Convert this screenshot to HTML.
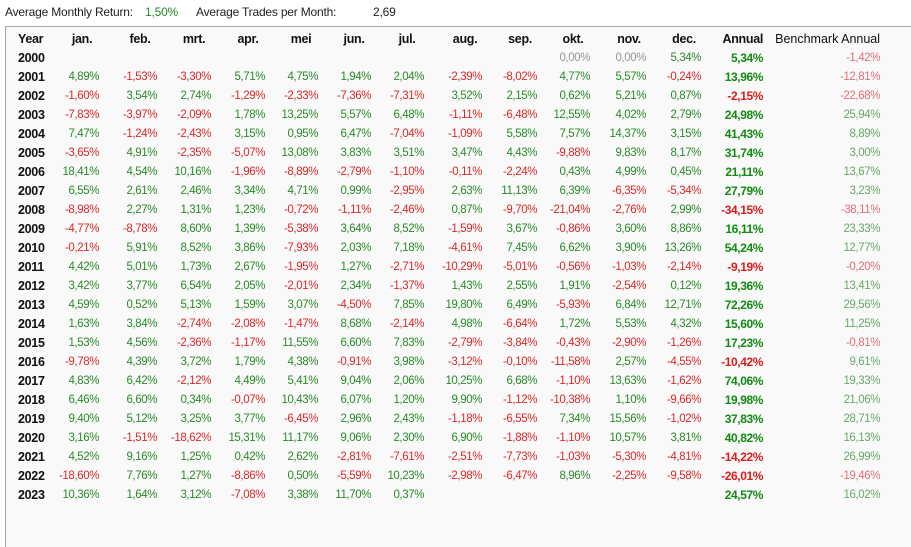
<!DOCTYPE html>
<html><head><meta charset="utf-8"><style>
body{margin:0;width:911px;height:530px;background:#fff;font-family:"Liberation Sans",sans-serif;overflow:hidden;position:relative}
#top{position:absolute;left:5px;top:5px;font-size:12px;color:#222;letter-spacing:-0.2px;white-space:nowrap}
#top span{position:absolute;top:0}
#box{position:absolute;left:5px;top:26px;width:920px;height:520px;border-left:1px solid #a8a8a8;border-top:1px solid #a8a8a8;background:#f9f9f9}
table{position:absolute;left:12px;top:3px;border-collapse:collapse;table-layout:fixed;font-size:11.5px;letter-spacing:-0.4px}
td,th{padding:0;height:19px;text-align:right;white-space:nowrap;color:#2a8a2a;font-weight:normal}
th{height:18px;font-weight:bold;color:#111;text-align:center;font-size:12.5px;letter-spacing:-0.3px}
td:first-child,th:first-child{text-align:left;font-weight:bold;color:#111;font-size:12.5px;letter-spacing:-0.3px}
td.r{color:#d82a2a}td.z{color:#999}
td:nth-child(14){font-weight:bold;color:#138a13;font-size:12px}td:nth-child(14).r{color:#d81e1e}
td:nth-child(15){color:#6aa86a}td:nth-child(15).r{color:#e07078}
</style></head><body>
<div id="top"><span style="left:0">Average Monthly Return:</span><span style="left:140px;color:#2a8a2a">1,50%</span><span style="left:191px">Average Trades per Month:</span><span style="left:368px">2,69</span></div>
<div id="box"><table>
<colgroup><col style="width:41px"><col style="width:40px"><col style="width:58px"><col style="width:54px"><col style="width:54px"><col style="width:53px"><col style="width:53px"><col style="width:53px"><col style="width:58px"><col style="width:55px"><col style="width:53px"><col style="width:56px"><col style="width:55px"><col style="width:62px"><col style="width:117px"></colgroup>
<tr><th>Year</th><th style="padding-left:6px">jan.</th><th style="padding-left:24px">feb.</th><th style="padding-left:20px">mrt.</th><th style="padding-left:20px">apr.</th><th style="padding-left:19px">mei</th><th style="padding-left:19px">jun.</th><th style="padding-left:19px">jul.</th><th style="padding-left:24px">aug.</th><th style="padding-left:21px">sep.</th><th style="padding-left:19px">okt.</th><th style="padding-left:22px">nov.</th><th style="padding-left:21px">dec.</th><th style="text-align:right">Annual</th><th style="text-align:right;font-weight:normal;letter-spacing:0">Benchmark Annual</th></tr>
<tr><td>2000</td><td></td><td></td><td></td><td></td><td></td><td></td><td></td><td></td><td></td><td class="z">0,00%</td><td class="z">0,00%</td><td>5,34%</td><td>5,34%</td><td class="r">-1,42%</td></tr>
<tr><td>2001</td><td>4,89%</td><td class="r">-1,53%</td><td class="r">-3,30%</td><td>5,71%</td><td>4,75%</td><td>1,94%</td><td>2,04%</td><td class="r">-2,39%</td><td class="r">-8,02%</td><td>4,77%</td><td>5,57%</td><td class="r">-0,24%</td><td>13,96%</td><td class="r">-12,81%</td></tr>
<tr><td>2002</td><td class="r">-1,60%</td><td>3,54%</td><td>2,74%</td><td class="r">-1,29%</td><td class="r">-2,33%</td><td class="r">-7,36%</td><td class="r">-7,31%</td><td>3,52%</td><td>2,15%</td><td>0,62%</td><td>5,21%</td><td>0,87%</td><td class="r">-2,15%</td><td class="r">-22,68%</td></tr>
<tr><td>2003</td><td class="r">-7,83%</td><td class="r">-3,97%</td><td class="r">-2,09%</td><td>1,78%</td><td>13,25%</td><td>5,57%</td><td>6,48%</td><td class="r">-1,11%</td><td class="r">-6,48%</td><td>12,55%</td><td>4,02%</td><td>2,79%</td><td>24,98%</td><td>25,94%</td></tr>
<tr><td>2004</td><td>7,47%</td><td class="r">-1,24%</td><td class="r">-2,43%</td><td>3,15%</td><td>0,95%</td><td>6,47%</td><td class="r">-7,04%</td><td class="r">-1,09%</td><td>5,58%</td><td>7,57%</td><td>14,37%</td><td>3,15%</td><td>41,43%</td><td>8,89%</td></tr>
<tr><td>2005</td><td class="r">-3,65%</td><td>4,91%</td><td class="r">-2,35%</td><td class="r">-5,07%</td><td>13,08%</td><td>3,83%</td><td>3,51%</td><td>3,47%</td><td>4,43%</td><td class="r">-9,88%</td><td>9,83%</td><td>8,17%</td><td>31,74%</td><td>3,00%</td></tr>
<tr><td>2006</td><td>18,41%</td><td>4,54%</td><td>10,16%</td><td class="r">-1,96%</td><td class="r">-8,89%</td><td class="r">-2,79%</td><td class="r">-1,10%</td><td class="r">-0,11%</td><td class="r">-2,24%</td><td>0,43%</td><td>4,99%</td><td>0,45%</td><td>21,11%</td><td>13,67%</td></tr>
<tr><td>2007</td><td>6,55%</td><td>2,61%</td><td>2,46%</td><td>3,34%</td><td>4,71%</td><td>0,99%</td><td class="r">-2,95%</td><td>2,63%</td><td>11,13%</td><td>6,39%</td><td class="r">-6,35%</td><td class="r">-5,34%</td><td>27,79%</td><td>3,23%</td></tr>
<tr><td>2008</td><td class="r">-8,98%</td><td>2,27%</td><td>1,31%</td><td>1,23%</td><td class="r">-0,72%</td><td class="r">-1,11%</td><td class="r">-2,46%</td><td>0,87%</td><td class="r">-9,70%</td><td class="r">-21,04%</td><td class="r">-2,76%</td><td>2,99%</td><td class="r">-34,15%</td><td class="r">-38,11%</td></tr>
<tr><td>2009</td><td class="r">-4,77%</td><td class="r">-8,78%</td><td>8,60%</td><td>1,39%</td><td class="r">-5,38%</td><td>3,64%</td><td>8,52%</td><td class="r">-1,59%</td><td>3,67%</td><td class="r">-0,86%</td><td>3,60%</td><td>8,86%</td><td>16,11%</td><td>23,33%</td></tr>
<tr><td>2010</td><td class="r">-0,21%</td><td>5,91%</td><td>8,52%</td><td>3,86%</td><td class="r">-7,93%</td><td>2,03%</td><td>7,18%</td><td class="r">-4,61%</td><td>7,45%</td><td>6,62%</td><td>3,90%</td><td>13,26%</td><td>54,24%</td><td>12,77%</td></tr>
<tr><td>2011</td><td>4,42%</td><td>5,01%</td><td>1,73%</td><td>2,67%</td><td class="r">-1,95%</td><td>1,27%</td><td class="r">-2,71%</td><td class="r">-10,29%</td><td class="r">-5,01%</td><td class="r">-0,56%</td><td class="r">-1,03%</td><td class="r">-2,14%</td><td class="r">-9,19%</td><td class="r">-0,20%</td></tr>
<tr><td>2012</td><td>3,42%</td><td>3,77%</td><td>6,54%</td><td>2,05%</td><td class="r">-2,01%</td><td>2,34%</td><td class="r">-1,37%</td><td>1,43%</td><td>2,55%</td><td>1,91%</td><td class="r">-2,54%</td><td>0,12%</td><td>19,36%</td><td>13,41%</td></tr>
<tr><td>2013</td><td>4,59%</td><td>0,52%</td><td>5,13%</td><td>1,59%</td><td>3,07%</td><td class="r">-4,50%</td><td>7,85%</td><td>19,80%</td><td>6,49%</td><td class="r">-5,93%</td><td>6,84%</td><td>12,71%</td><td>72,26%</td><td>29,56%</td></tr>
<tr><td>2014</td><td>1,63%</td><td>3,84%</td><td class="r">-2,74%</td><td class="r">-2,08%</td><td class="r">-1,47%</td><td>8,68%</td><td class="r">-2,14%</td><td>4,98%</td><td class="r">-6,64%</td><td>1,72%</td><td>5,53%</td><td>4,32%</td><td>15,60%</td><td>11,25%</td></tr>
<tr><td>2015</td><td>1,53%</td><td>4,56%</td><td class="r">-2,36%</td><td class="r">-1,17%</td><td>11,55%</td><td>6,60%</td><td>7,83%</td><td class="r">-2,79%</td><td class="r">-3,84%</td><td class="r">-0,43%</td><td class="r">-2,90%</td><td class="r">-1,26%</td><td>17,23%</td><td class="r">-0,81%</td></tr>
<tr><td>2016</td><td class="r">-9,78%</td><td>4,39%</td><td>3,72%</td><td>1,79%</td><td>4,38%</td><td class="r">-0,91%</td><td>3,98%</td><td class="r">-3,12%</td><td class="r">-0,10%</td><td class="r">-11,58%</td><td>2,57%</td><td class="r">-4,55%</td><td class="r">-10,42%</td><td>9,61%</td></tr>
<tr><td>2017</td><td>4,83%</td><td>6,42%</td><td class="r">-2,12%</td><td>4,49%</td><td>5,41%</td><td>9,04%</td><td>2,06%</td><td>10,25%</td><td>6,68%</td><td class="r">-1,10%</td><td>13,63%</td><td class="r">-1,62%</td><td>74,06%</td><td>19,33%</td></tr>
<tr><td>2018</td><td>6,46%</td><td>6,60%</td><td>0,34%</td><td class="r">-0,07%</td><td>10,43%</td><td>6,07%</td><td>1,20%</td><td>9,90%</td><td class="r">-1,12%</td><td class="r">-10,38%</td><td>1,10%</td><td class="r">-9,66%</td><td>19,98%</td><td>21,06%</td></tr>
<tr><td>2019</td><td>9,40%</td><td>5,12%</td><td>3,25%</td><td>3,77%</td><td class="r">-6,45%</td><td>2,96%</td><td>2,43%</td><td class="r">-1,18%</td><td class="r">-6,55%</td><td>7,34%</td><td>15,56%</td><td class="r">-1,02%</td><td>37,83%</td><td>28,71%</td></tr>
<tr><td>2020</td><td>3,16%</td><td class="r">-1,51%</td><td class="r">-18,62%</td><td>15,31%</td><td>11,17%</td><td>9,06%</td><td>2,30%</td><td>6,90%</td><td class="r">-1,88%</td><td class="r">-1,10%</td><td>10,57%</td><td>3,81%</td><td>40,82%</td><td>16,13%</td></tr>
<tr><td>2021</td><td>4,52%</td><td>9,16%</td><td>1,25%</td><td>0,42%</td><td>2,62%</td><td class="r">-2,81%</td><td class="r">-7,61%</td><td class="r">-2,51%</td><td class="r">-7,73%</td><td class="r">-1,03%</td><td class="r">-5,30%</td><td class="r">-4,81%</td><td class="r">-14,22%</td><td>26,99%</td></tr>
<tr><td>2022</td><td class="r">-18,60%</td><td>7,76%</td><td>1,27%</td><td class="r">-8,86%</td><td>0,50%</td><td class="r">-5,59%</td><td>10,23%</td><td class="r">-2,98%</td><td class="r">-6,47%</td><td>8,96%</td><td class="r">-2,25%</td><td class="r">-9,58%</td><td class="r">-26,01%</td><td class="r">-19,46%</td></tr>
<tr><td>2023</td><td>10,36%</td><td>1,64%</td><td>3,12%</td><td class="r">-7,08%</td><td>3,38%</td><td>11,70%</td><td>0,37%</td><td></td><td></td><td></td><td></td><td></td><td>24,57%</td><td>16,02%</td></tr>
</table></div>
</body></html>
